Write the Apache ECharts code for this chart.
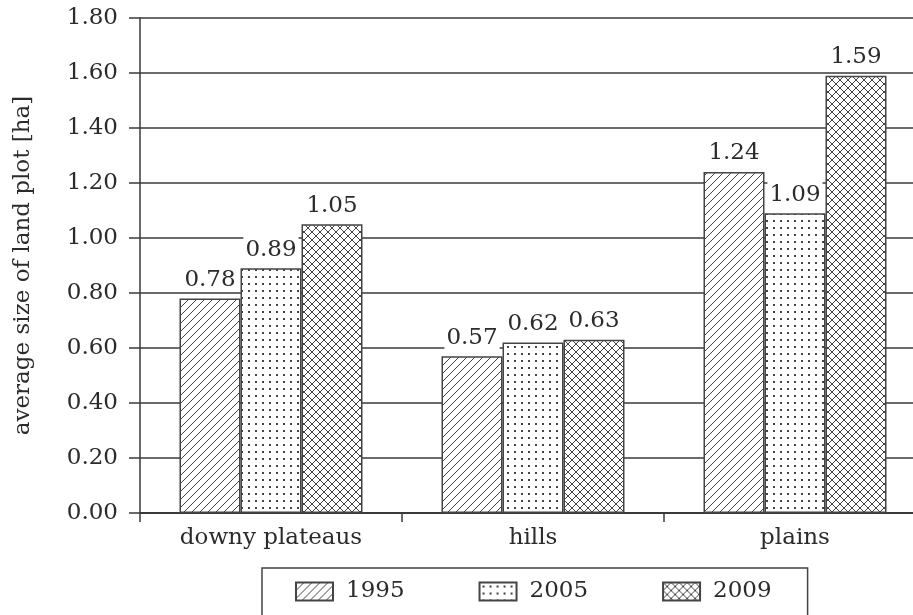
<!DOCTYPE html>
<html>
<head>
<meta charset="utf-8">
<script src="https://cdn.jsdelivr.net/npm/echarts@6/dist/echarts.min.js"></script>
<style>html,body{margin:0;padding:0;background:#fff;}#c{width:913px;height:615px;}</style>
</head>
<body>
<div id="c"></div>
<script>
const categories = ['downy plateaus', 'hills', 'plains'];
const seriesNames = ['1995', '2005', '2009'];
const values1995 = [0.78, 0.57, 1.24];
const values2005 = [0.89, 0.62, 1.09];
const values2009 = [1.05, 0.63, 1.59];
const yTicks = [0, 0.2, 0.4, 0.6, 0.8, 1.0, 1.2, 1.4, 1.6, 1.8];

const FONT = 'DejaVu Serif';
const INK = '#2b2b2b';
const LINE = '#3a3a3a';

function makePattern(kind) {
  const c = document.createElement('canvas');
  const ctx = c.getContext('2d');
  if (kind === 'diag') {
    c.width = 8; c.height = 8;
    ctx.fillStyle = '#fff'; ctx.fillRect(0, 0, 8, 8);
    ctx.strokeStyle = '#444'; ctx.lineWidth = 1;
    ctx.beginPath();
    ctx.moveTo(-1, 9); ctx.lineTo(9, -1);
    ctx.moveTo(-1, 1); ctx.lineTo(1, -1);
    ctx.moveTo(7, 9); ctx.lineTo(9, 7);
    ctx.stroke();
  } else if (kind === 'dots') {
    c.width = 7; c.height = 7;
    ctx.fillStyle = '#fff'; ctx.fillRect(0, 0, 7, 7);
    ctx.fillStyle = '#444';
    ctx.fillRect(3, 3, 2, 2);
  } else {
    c.width = 8; c.height = 8;
    ctx.fillStyle = '#fff'; ctx.fillRect(0, 0, 8, 8);
    ctx.strokeStyle = '#444'; ctx.lineWidth = 1;
    ctx.beginPath();
    ctx.moveTo(-1, 9); ctx.lineTo(9, -1);
    ctx.moveTo(-1, 1); ctx.lineTo(1, -1);
    ctx.moveTo(7, 9); ctx.lineTo(9, 7);
    ctx.moveTo(-1, -1); ctx.lineTo(9, 9);
    ctx.moveTo(-1, 7); ctx.lineTo(1, 9);
    ctx.moveTo(7, -1); ctx.lineTo(9, 1);
    ctx.stroke();
  }
  return { image: c, repeat: 'repeat' };
}

const patterns = [makePattern('diag'), makePattern('dots'), makePattern('cross')];
const allValues = [values1995, values2005, values2009];

const chart = echarts.init(document.getElementById('c'), null, { renderer: 'canvas' });

const series = seriesNames.map((name, i) => ({
  name: name,
  type: 'bar',
  data: allValues[i],
  barWidth: 61,
  barGap: '0%',
  itemStyle: { color: patterns[i], borderColor: '#444', borderWidth: 1.5 },
  label: {
    show: true,
    position: 'top',
    distance: 7,
    formatter: p => p.value.toFixed(2),
    fontFamily: FONT,
    fontSize: 23,
    color: INK,
    backgroundColor: '#fff',
    padding: [4, 2, 0, 2]
  },
  z: 3
}));

chart.setOption({
  animation: false,
  backgroundColor: '#fff',
  grid: { left: 140, top: 18, width: 786, height: 495, containLabel: false, outerBoundsMode: 'none' },
  legend: {
    data: seriesNames,
    left: 262,
    top: 568,
    orient: 'horizontal',
    padding: [12, 36, 22, 33],
    itemWidth: 37,
    itemHeight: 18,
    itemGap: 74,
    borderColor: '#444',
    borderWidth: 1.5,
    backgroundColor: '#fff',
    icon: 'rect',
    textStyle: { fontFamily: FONT, fontSize: 23, color: INK, padding: [0, 0, 0, 8] }
  },
  xAxis: {
    type: 'category',
    data: categories,
    axisLine: { lineStyle: { color: LINE, width: 2 } },
    axisTick: { show: true, length: 9, lineStyle: { color: LINE, width: 1.5 } },
    axisLabel: { fontFamily: FONT, fontSize: 23, color: INK, margin: 14 }
  },
  yAxis: {
    type: 'value',
    min: 0,
    max: 1.8,
    interval: 0.2,
    name: 'average size of land plot [ha]',
    nameLocation: 'middle',
    nameGap: 105,
    nameTextStyle: { fontFamily: FONT, fontSize: 23, color: INK },
    axisLine: { show: true, lineStyle: { color: LINE, width: 1.5 } },
    axisTick: { show: true, length: 11, lineStyle: { color: LINE, width: 1.5 } },
    axisLabel: {
      fontFamily: FONT, fontSize: 23, color: INK, margin: 22,
      formatter: v => yTicks.some(t => Math.abs(t - v) < 1e-9) ? v.toFixed(2) : ''
    },
    splitLine: { show: true, lineStyle: { color: LINE, width: 1.5 } }
  },
  series: series
});
</script>
</body>
</html>
